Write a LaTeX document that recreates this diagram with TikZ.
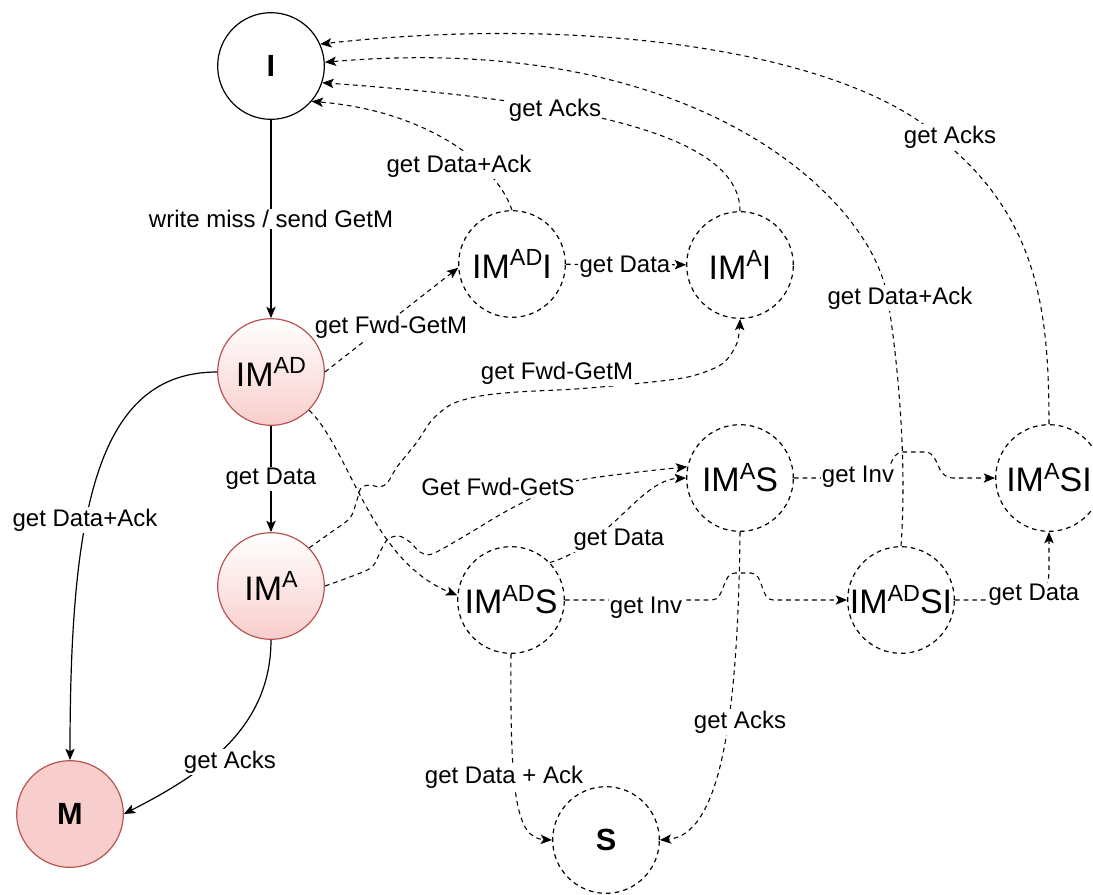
\documentclass[tikz,border=0pt]{standalone}
\usepackage{fontspec}
\setmainfont{Liberation Sans}
\usetikzlibrary{arrows.meta}
\definecolor{redline}{RGB}{184,84,80}
\definecolor{redfill}{RGB}{248,206,204}
% raised state index, e.g. IM^{AD}
\newcommand{\upidx}[1]{\raisebox{0.36em}{\fontsize{17.5}{20}\selectfont #1}}

\begin{document}
\begin{tikzpicture}[x=0.75pt, y=-0.75pt,
  state/.style={circle, minimum size=80pt, inner sep=0pt, line width=0.9pt,
                font=\fontsize{25.5}{30}\selectfont},
  boldname/.style={font=\bfseries\fontsize{23}{28}\selectfont},
  plain/.style={state, draw=black, fill=white, boldname},
  hot/.style={state, draw=redline, top color=white, bottom color=redfill},
  done/.style={state, draw=redline, fill=redfill, boldname},
  pending/.style={state, draw=black, dash pattern=on 3.5pt off 3pt, fill=white},
  tip/.style={-{Stealth[length=8.5pt,width=7pt,inset=2pt]}},
  solidedge/.style={draw=black, line width=0.9pt, tip},
  dashedge/.style={draw=black, line width=0.8pt, dash pattern=on 3.5pt off 3pt, tip},
  lbl/.style={fill=white, inner sep=1pt, font=\fontsize{18}{21}\selectfont}
]
\useasboundingbox (0,0) rectangle (1093,894);

% states
\node[plain]   (I)      at (271,66)   {I};
\node[hot]     (IMAD)   at (271,372)  {IM\upidx{AD}};
\node[hot]     (IMA)    at (271,586)  {IM\upidx{A}};
\node[done]    (M)      at (70,814)   {M};
\node[pending] (IMADI)  at (512,264)  {IM\upidx{AD}I};
\node[pending] (IMAI)   at (740,265)  {IM\upidx{A}I};
\node[pending] (IMAS)   at (740,478)  {IM\upidx{A}S};
\node[pending] (IMASI)  at (1049,478) {IM\upidx{A}SI};
\node[pending] (IMADS)  at (511,600)  {IM\upidx{AD}S};
\node[pending] (IMADSI) at (901,600)  {IM\upidx{AD}SI};
\node[pending, boldname] (S) at (606,840) {S};

% stable path of the write miss
\draw[solidedge] (I) -- (IMAD);
\draw[solidedge] (IMAD) -- (IMA);
\draw[solidedge] (IMAD.west) .. controls (97,372) and (70,510) .. (M.north);
\draw[solidedge] (IMA.south) .. controls (271,730) and (200,775) .. (M.east);

% forwarded requests and their follow-ups
\draw[dashedge] (IMAD.east) -- (IMADI.184);
\draw[dashedge] (IMADI) -- (IMAI);
\draw[dashedge] (IMADI.north) .. controls (495,160) and (420,110) .. (I.-41);
\draw[dashedge] (IMAI.north) .. controls (740,130) and (560,100) .. (I.-18);
\draw[dashedge] (IMADSI.north) .. controls (908,450) and (895,340) .. (887,295)
                .. controls (870,200) and (700,30) .. (I.4);
\draw[dashedge] (IMASI.north) .. controls (1049,312) and (1038,221) .. (948,145)
                .. controls (860,55) and (600,13) .. (I.24);
\draw[dashedge] plot[smooth, tension=0.5] coordinates {(IMA.45) (330,533) (350,518)
                (357,500) (361,488) (370,485) (380,487) (388,482) (397,467) (417,442)
                (432,420) (452,404) (480,396) (517,392) (575,389) (633,384) (688,377)
                (722,364) (737,343) (IMAI.south)};
\draw[dashedge] plot[smooth, tension=0.5] coordinates {(IMA.east) (350,577) (372,567)
                (381,550) (388,539) (399,536) (410,542) (420,552) (432,554) (463,537)
                (503,513) (540,494) (575,481) (630,473) (IMAS.168)};
\draw[dashedge] (IMAD.-45) .. controls (350,450) and (370,560) .. (IMADS.175);
\draw[dashedge] (IMADS.44) .. controls (610,545) and (640,480) .. (IMAS.west);
\draw[dashedge] (IMAS.east) -- (875,478) .. controls (893,478) and (888,452) .. (903,452)
                -- (925,452) .. controls (940,452) and (935,478) .. (953,478) -- (IMASI.west);
\draw[dashedge] (IMADS.east) -- (712,600) .. controls (725,600) and (722,573) .. (735,573)
                -- (751,573) .. controls (764,573) and (760,600) .. (773,600) -- (IMADSI.west);
\draw[dashedge] (IMADSI.east) -- (1010,600) .. controls (1040,600) and (1049,592) .. (1049,570)
                -- (IMASI.south);
\draw[dashedge] (IMADS.south) .. controls (510,790) and (515,838) .. (S.west);
\draw[dashedge] (IMAS.south) .. controls (738,720) and (720,835) .. (S.east);

% transition labels
\node[lbl] (l1)  at (271,219)  {write miss / send GetM};
\node[lbl] (l2)  at (271,479)  {get Data};
\node[lbl] (l3)  at (85,520)   {get Data+Ack};
\node[lbl] (l4)  at (230,762)  {get Acks};
\node[lbl] (l5)  at (391,327)  {get Fwd-GetM};
\node[lbl] (l6)  at (625,267)  {get Data};
\node[lbl] (l7)  at (459,166)  {get Data+Ack};
\node[lbl] (l8)  at (555,110)  {get Acks};
\node[lbl] (l9)  at (900,298)  {get Data+Ack};
\node[lbl] (l10) at (950,137)  {get Acks};
\node[lbl] (l11) at (557,373)  {get Fwd-GetM};
\node[lbl] (l12) at (498,487)  {Get Fwd-GetS};
\node[lbl] (l13) at (619,540)  {get Data};
\node[lbl] (l14) at (858,477)  {get Inv};
\node[lbl] (l15) at (646,608)  {get Inv};
\node[lbl] (l16) at (1034,595) {get Data};
\node[lbl] (l17) at (504,777)  {get Data + Ack};
\node[lbl] (l18) at (740,722)  {get Acks};
\end{tikzpicture}
\end{document}
